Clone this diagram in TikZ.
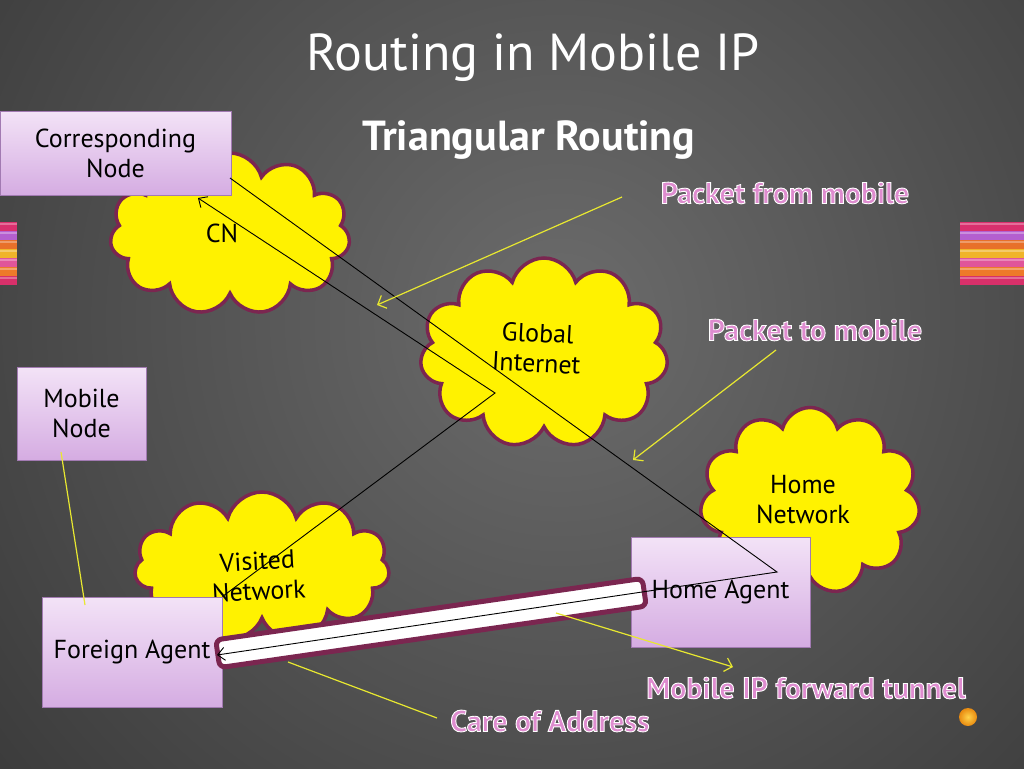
\documentclass[tikz,border=0pt]{standalone}
\usepackage{fontspec}
\setmainfont{PT Sans}
\usetikzlibrary{shapes.symbols,arrows.meta}

\definecolor{cloudedge}{HTML}{7B2650}
\definecolor{boxtop}{HTML}{F3E3F7}
\definecolor{boxbot}{HTML}{D5ACE2}
\definecolor{boxedge}{HTML}{A27AB2}
\definecolor{lblpink}{HTML}{DE8CCF}
\definecolor{pointer}{HTML}{E8E830}
\definecolor{bgin}{HTML}{6C6C6C}
\definecolor{bgout}{HTML}{0E0E0E}
\definecolor{dotin}{HTML}{FFD24A}
\definecolor{dotout}{HTML}{E88A10}
\definecolor{sA}{HTML}{D9306E}
\definecolor{sB}{HTML}{B45FCF}
\definecolor{sC}{HTML}{E8702A}
\definecolor{sD}{HTML}{F0B42A}
\definecolor{sE}{HTML}{E0559A}
\definecolor{sF}{HTML}{EE7A2A}
\definecolor{sG}{HTML}{D8306A}

% pink text with a thin white outline (fill, then stroke)
\newcommand{\pinklabel}[1]{\textcolor{lblpink}{\special{pdf:code 1 1 1 RG 0.9 w 2 Tr}#1\special{pdf:code 0 Tr}}}

\begin{document}
\begin{tikzpicture}[x=1pt,y=-1pt,
  cloudnet/.style={cloud, cloud puffs=11, cloud ignores aspect, draw=cloudedge, line width=3.5pt,
    fill=yellow, align=center, font=\fontsize{26}{30}\selectfont, text=black, inner sep=0pt},
  cloudtext/.style={align=center, font=\fontsize{26}{30}\selectfont, text=black, inner sep=0pt},
  agentbox/.style={rectangle, draw=boxedge, line width=1pt, top color=boxtop, bottom color=boxbot,
    align=center, font=\fontsize{26}{30}\selectfont, text=black, inner sep=0pt},
  pkt/.style={black, line width=0.9pt},
  pktarrow/.style={pkt, -{Straight Barb[length=7pt,width=13pt]}},
  note/.style={pointer, line width=1.2pt},
  notearrow/.style={note, -{Straight Barb[length=7pt,width=14pt]}},
  notelabel/.style={font=\bfseries\fontsize{30}{34}\selectfont, inner sep=0pt},
]
% background
\useasboundingbox (0,0) rectangle (1024,768);
\begin{scope}
  \clip (0,0) rectangle (1024,768);
  \fill[bgout] (0,0) rectangle (1024,768);
  \shade[inner color=bgin, outer color=bgout] (560,320) circle (1400);
\end{scope}

% side decorations
\foreach \c [count=\i from 0] in {sA,sB,sC,sD,sE,sF,sG}{
  \fill[\c] (0,222+9*\i) rectangle (17,231+9*\i);
  \fill[\c] (960,222+9*\i) rectangle (1024,231+9*\i);
  \fill[white,opacity=0.3] (0,223+9*\i) rectangle (17,225+9*\i);
  \fill[white,opacity=0.3] (960,223+9*\i) rectangle (1024,225+9*\i);
}

% titles
\node[text=white, font=\fontsize{52}{60}\selectfont] (title) at (533,58) {Routing in Mobile IP};
\node[text=white, font=\bfseries\fontsize{42}{48}\selectfont] (subtitle) at (529,140) {Triangular Routing};

% clouds
\node[cloudnet, minimum width=240, minimum height=162] (cncloud) at (230,234) {};
\node[cloudtext] (cntext) at (222,233) {CN};
\node[cloudnet, minimum width=248, minimum height=190] (gicloud) at (544,353) {};
\node[cloudtext, rotate=-3] (gitext) at (537,348) {Global\\Internet};
\node[cloudnet, minimum width=220, minimum height=187] (hncloud) at (810,501) {};
\node[cloudtext] (hntext) at (803,500) {Home\\Network};
\node[cloudnet, minimum width=255, minimum height=150] (vncloud) at (262,567) {};
\node[cloudtext, rotate=3] (vntext) at (258,576) {Visited\\Network};

% boxes
\node[agentbox, minimum width=231, minimum height=84] (cnbox) at (115.5,153) {Corresponding\\Node};
\node[agentbox, minimum width=129, minimum height=93] (mnbox) at (81.5,413.5) {Mobile\\Node};
\node[agentbox, minimum width=180, minimum height=110] (fabox) at (132,652) {Foreign Agent};
\node[agentbox, minimum width=179, minimum height=110] (habox) at (720.5,592) {Home Agent};

% tunnel
\node[rectangle, rounded corners=6pt, draw=cloudedge, line width=5pt, fill=white,
  minimum width=431, minimum height=28, rotate=8.2] (tunnel) at (431,623) {};

% packet paths
\coordinate (cnout) at (230,178);
\coordinate (cnin) at (198,198);
\coordinate (gibend) at (495,393);
\coordinate (haturn) at (777,572);
\coordinate (fain) at (217,655);
\draw[pktarrow] (fabox.north east) -- (gibend) -- (cnin);
\draw[pktarrow] (cnout) -- (haturn) -- (fain);

% annotations
\coordinate (pfmtail) at (622,197);
\coordinate (pfmtip) at (377,305);
\coordinate (ptmtail) at (776,350);
\coordinate (ptmtip) at (633,460);
\coordinate (tuntail) at (556,613);
\coordinate (tuntip) at (733,667);
\coordinate (coatail) at (437,718);
\coordinate (coatip) at (288,662);
\coordinate (mnfoot) at (61,452);
\coordinate (fahead) at (85,605);
\draw[notearrow] (pfmtail) -- (pfmtip);
\draw[notearrow] (ptmtail) -- (ptmtip);
\draw[notearrow] (tuntail) -- (tuntip);
\draw[note] (coatail) -- (coatip);
\draw[note] (mnfoot) -- (fahead);

\node[notelabel] (pfm) at (785,193) {\pinklabel{Packet from mobile}};
\node[notelabel] (ptm) at (815,330) {\pinklabel{Packet to mobile}};
\node[notelabel] (mipt) at (806,688) {\pinklabel{Mobile IP forward tunnel}};
\node[notelabel] (coa) at (550,721) {\pinklabel{Care of Address}};

% bullet
\shade[inner color=dotin, outer color=dotout] (968,717) circle (9);
\end{tikzpicture}
\end{document}
